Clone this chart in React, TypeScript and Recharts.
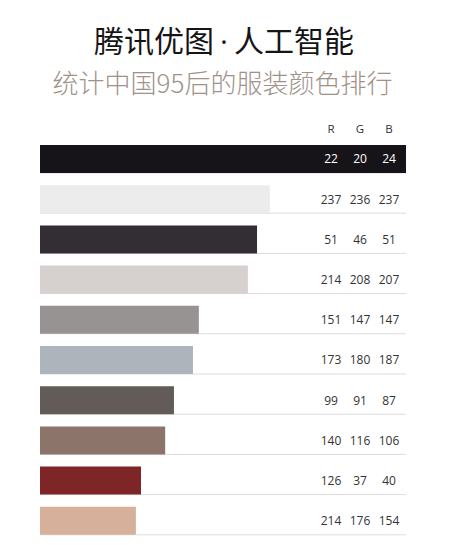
import React from "react";
import { BarChart, Bar, XAxis, YAxis, Cell } from "recharts";

const categories = ["c1", "c2", "c3", "c4", "c5", "c6", "c7", "c8", "c9", "c10"];
const values = [100, 62.8, 59.3, 56.8, 43.4, 41.8, 36.6, 34.2, 27.6, 26.2];
const rValues = [22, 237, 51, 214, 151, 173, 99, 140, 126, 214];
const gValues = [20, 236, 46, 208, 147, 180, 91, 116, 37, 176];
const bValues = [24, 237, 51, 207, 147, 187, 87, 106, 40, 154];
const headers = ["R", "G", "B"];

const data = categories.map((name, i) => ({
  name,
  value: values[i],
  r: rValues[i],
  g: gValues[i],
  b: bValues[i],
}));

const FONT = '"Open Sans", "Noto Sans", sans-serif';
const COL_OFFSETS = [-75, -46, -17];

const RowLine = (props: any) => {
  const { x, y, width, height } = props;
  return (
    <line x1={x} x2={x + width} y1={y + height} y2={y + height} stroke="#dcdcdc" strokeWidth={1} />
  );
};

const renderRgbTick = (props: any) => {
  const { x, y, payload } = props;
  const idx = categories.indexOf(payload?.value);
  const d = data[idx];
  if (!d) return <g />;
  const vals = [d.r, d.g, d.b];
  const fill = idx === 0 ? "#ffffff" : "#333333";
  return (
    <g>
      {vals.map((v, k) => (
        <text
          key={k}
          x={x + COL_OFFSETS[k]}
          y={y}
          dy="0.36em"
          textAnchor="middle"
          fontSize={12}
          fontFamily={FONT}
          fill={fill}
        >
          {v}
        </text>
      ))}
    </g>
  );
};

export default function App() {
  return (
    <div
      style={{
        position: "absolute",
        left: 0,
        top: 0,
        width: 450,
        height: 545,
        background: "#ffffff",
        overflow: "hidden",
      }}
    >
      <div
        style={{
          position: "absolute",
          left: 0,
          width: 448,
          top: 19,
          textAlign: "center",
          fontFamily: '"Noto Sans CJK SC", sans-serif',
          fontSize: 30,
          fontWeight: 400,
          lineHeight: "40px",
          color: "#151515",
        }}
      >
        腾讯优图
        <span style={{ fontFamily: FONT, display: "inline-block", width: 20, textAlign: "center" }}>·</span>
        人工智能
      </div>
      <div
        style={{
          position: "absolute",
          left: 0,
          width: 445,
          top: 64,
          textAlign: "center",
          fontFamily: '"Noto Sans CJK SC", sans-serif',
          fontSize: 26,
          fontWeight: 300,
          lineHeight: "36px",
          color: "#a0928a",
        }}
      >
        统计中国95后的服装颜色排行
      </div>
      {headers.map((h, k) => (
        <div
          key={h}
          style={{
            position: "absolute",
            left: 406 + COL_OFFSETS[k] - 10,
            width: 20,
            top: 121,
            textAlign: "center",
            fontFamily: FONT,
            fontSize: 11.5,
            lineHeight: "16px",
            color: "#333333",
          }}
        >
          {h}
        </div>
      ))}
      <div style={{ position: "absolute", left: 0, top: 0 }}>
        <BarChart
          width={450}
          height={545}
          layout="vertical"
          data={data}
          margin={{ top: 139, right: 43, bottom: 4, left: 40 }}
        >
          <XAxis type="number" domain={[0, 100]} hide />
          <YAxis
            yAxisId="left"
            type="category"
            dataKey="name"
            width={0}
            tick={false}
            tickLine={false}
            axisLine={{ stroke: "#8a8a8a", strokeWidth: 1.2 }}
          />
          <YAxis
            yAxisId="right"
            orientation="right"
            type="category"
            dataKey="name"
            width={1}
            tickSize={0}
            tickMargin={0}
            tickLine={false}
            axisLine={false}
            interval={0}
            tick={renderRgbTick}
          />
          <Bar
            yAxisId="left"
            dataKey="value"
            barSize={28}
            isAnimationActive={false}
            background={(p: any) => <RowLine {...p} />}
          >
            {data.map((d, i) => (
              <Cell key={i} fill={`rgb(${d.r},${d.g},${d.b})`} />
            ))}
          </Bar>
        </BarChart>
      </div>
    </div>
  );
}
